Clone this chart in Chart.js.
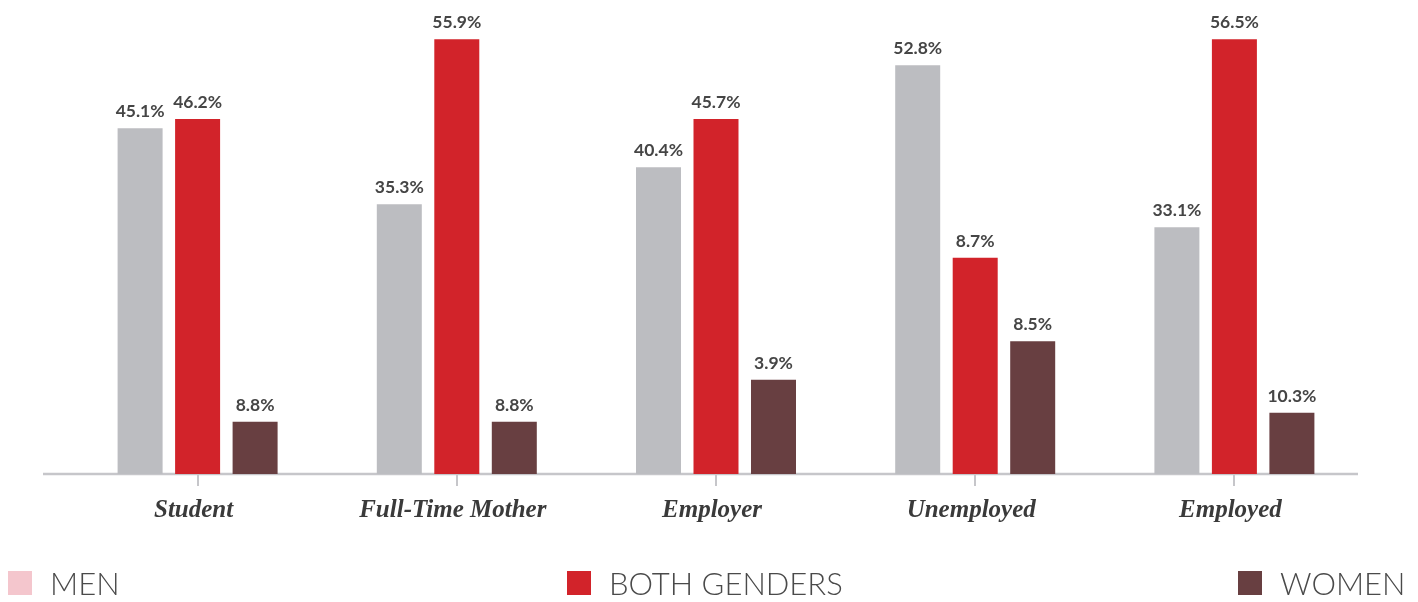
<!DOCTYPE html>
<html>
<head>
<meta charset="utf-8">
<script src="https://cdn.jsdelivr.net/npm/chart.js@4/dist/chart.umd.min.js"></script>
<style>
  html, body { margin: 0; padding: 0; background: #ffffff; }
  #wrap { position: relative; width: 1418px; height: 602px; }
  #c { position: absolute; left: 0; top: 0; }
  .leg { position: absolute; top: 564px; height: 38px; display: flex; align-items: center;
         font-family: Lato, "Open Sans", sans-serif; font-weight: 300; font-size: 31px; color: #4a4a4a; white-space: nowrap; }
  .leg span.box { display: inline-block; width: 24px; height: 24px; margin-right: 18px; }
</style>
</head>
<body>
<div id="wrap">
  <canvas id="c" width="1418" height="602"></canvas>
  <div class="leg" id="leg0" style="left:8px"></div>
  <div class="leg" id="leg1" style="left:567px"></div>
  <div class="leg" id="leg2" style="left:1238px"></div>
</div>
<script>
// Categories
const categories = ["Student", "Full-Time Mother", "Employer", "Unemployed", "Employed"];
// Series names
const seriesNames = ["MEN", "BOTH GENDERS", "WOMEN"];
// Bar heights as drawn (percent)
const menValues   = [45.1, 35.2, 40.0, 53.3, 32.2];
const bothValues  = [46.3, 56.7, 46.3, 28.2, 56.7];
const womenValues = [6.8, 6.8, 12.3, 17.3, 8.0];
// Printed value labels
const menLabels   = ["45.1%", "35.3%", "40.4%", "52.8%", "33.1%"];
const bothLabels  = ["46.2%", "55.9%", "45.7%", "8.7%", "56.5%"];
const womenLabels = ["8.8%", "8.8%", "3.9%", "8.5%", "10.3%"];

const barColors    = ["#bcbdc1", "#d2232a", "#683f41"];
const legendColors = ["#f4c6cd", "#d2232a", "#683f41"];

seriesNames.forEach((n, i) => {
  const el = document.getElementById("leg" + i);
  const b = document.createElement("span");
  b.className = "box";
  b.style.background = legendColors[i];
  el.appendChild(b);
  el.appendChild(document.createTextNode(n));
});

const labelSets = [menLabels, bothLabels, womenLabels];

const axisLinePlugin = {
  id: "axisLine",
  beforeDatasetsDraw(chart) {
    const ctx = chart.ctx;
    const y = chart.scales.y.getPixelForValue(0);
    ctx.save();
    ctx.strokeStyle = "#c6c6ca";
    ctx.lineWidth = 2.5;
    ctx.beginPath();
    ctx.moveTo(43, y);
    ctx.lineTo(1358, y);
    ctx.stroke();
    ctx.restore();
  }
};

const valueLabelPlugin = {
  id: "valueLabels",
  afterDatasetsDraw(chart) {
    const ctx = chart.ctx;
    ctx.save();
    ctx.font = "700 17.5px Lato, 'Open Sans', sans-serif";
    ctx.fillStyle = "#454545";
    ctx.textAlign = "center";
    ctx.textBaseline = "alphabetic";
    chart.data.datasets.forEach((ds, di) => {
      chart.getDatasetMeta(di).data.forEach((bar, i) => {
        ctx.fillText(labelSets[di][i], bar.x, bar.y - 11);
      });
    });
    ctx.restore();
  }
};

new Chart(document.getElementById("c"), {
  type: "bar",
  data: {
    labels: categories,
    datasets: [
      { label: seriesNames[0], data: menValues,   backgroundColor: barColors[0] },
      { label: seriesNames[1], data: bothValues,  backgroundColor: barColors[1] },
      { label: seriesNames[2], data: womenValues, backgroundColor: barColors[2] }
    ]
  },
  options: {
    responsive: false,
    animation: false,
    devicePixelRatio: 1,
    categoryPercentage: 0.6655,
    barPercentage: 0.7826,
    layout: { padding: { left: 68, right: 54, top: 14, bottom: 66 } },
    plugins: { legend: { display: false }, tooltip: { enabled: false } },
    scales: {
      x: {
        grid: { display: true, drawOnChartArea: false, drawTicks: true, tickLength: 12,
                offset: false, color: "#c6c6ca", lineWidth: 2 },
        border: { display: false },
        ticks: { color: "#3a3a3a", padding: 10, labelOffset: -4,
                 font: { family: "'Liberation Serif', 'Times New Roman', serif", size: 25, weight: "bold", style: "italic" } }
      },
      y: { display: false, min: 0, max: 60 }
    }
  },
  plugins: [axisLinePlugin, valueLabelPlugin]
});
</script>
</body>
</html>
